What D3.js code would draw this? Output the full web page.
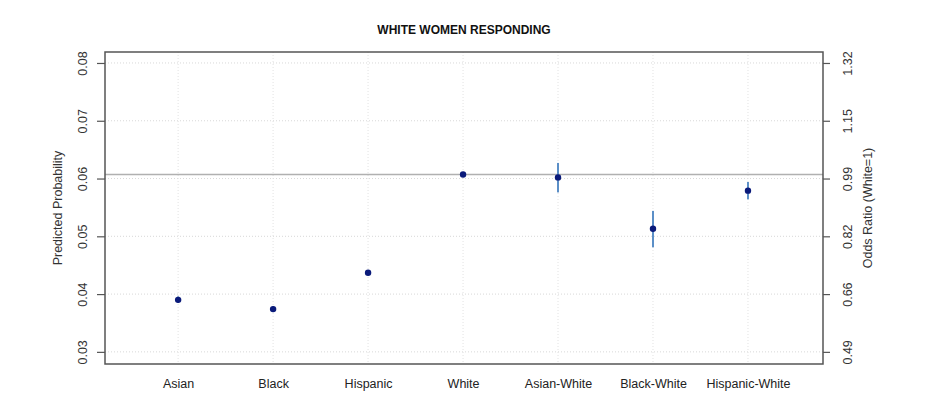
<!DOCTYPE html>
<html><head><meta charset="utf-8">
<script src="https://cdn.jsdelivr.net/npm/d3@7"></script>
<style>body{margin:0;background:#fff}svg{display:block}text{font-family:"Liberation Sans",Arial,sans-serif}</style>
</head><body><div id="c"></div>
<script>
const categories = ["Asian","Black","Hispanic","White","Asian-White","Black-White","Hispanic-White"];
const estimates  = [0.0390,0.0374,0.0437,0.0607,0.0602,0.0513,0.0579];
const ciLow      = [0.0385,0.0370,0.0433,0.0605,0.0576,0.0481,0.0564];
const ciHigh     = [0.0396,0.0379,0.0441,0.0609,0.0627,0.0544,0.0594];
const yTicks     = [0.03,0.04,0.05,0.06,0.07,0.08];
const oddsLabels = ["0.49","0.66","0.82","0.99","1.15","1.32"];
const refValue   = 0.0607;
const title      = "WHITE WOMEN RESPONDING";

const W=932,H=413;
const m={l:105,r:109,t:52,b:49};
const svg=d3.select("#c").append("svg").attr("width",W).attr("height",H);
const x=d3.scaleLinear().domain([0.23,7.79]).range([m.l,W-m.r]);
const y=d3.scaleLinear().domain([0.0279,0.0819]).range([H-m.b,m.t]);

// grid
svg.append("g").selectAll("line").data(yTicks).join("line")
  .attr("x1",m.l).attr("x2",W-m.r).attr("y1",d=>y(d)).attr("y2",d=>y(d))
  .attr("stroke","#d8d8d8").attr("stroke-width",1).attr("stroke-dasharray","1,2");
svg.append("g").selectAll("line").data(categories).join("line")
  .attr("x1",(d,i)=>x(i+1)).attr("x2",(d,i)=>x(i+1)).attr("y1",m.t).attr("y2",H-m.b)
  .attr("stroke","#e2e2e2").attr("stroke-width",1).attr("stroke-dasharray","1,2");

// reference line
svg.append("line").attr("x1",m.l).attr("x2",W-m.r).attr("y1",y(refValue)).attr("y2",y(refValue))
  .attr("stroke","#b0b0b0").attr("stroke-width",1.5);

// axes
const fmt=d3.format(".2f");
const gl=svg.append("g").attr("transform",`translate(${m.l},0)`)
  .call(d3.axisLeft(y).tickValues(yTicks).tickSize(8).tickPadding(5).tickFormat(fmt));
const gr=svg.append("g").attr("transform",`translate(${W-m.r},0)`)
  .call(d3.axisRight(y).tickValues(yTicks).tickSize(7).tickPadding(5).tickFormat((d,i)=>oddsLabels[i]));
[gl,gr].forEach(g=>{
  g.select(".domain").remove();
  g.selectAll(".tick line").attr("stroke","#555").attr("stroke-width",1.2);
  g.selectAll(".tick text").attr("fill","#333").attr("font-size",12.5);
});
gl.selectAll(".tick").each(function(){
  d3.select(this).select("text").attr("text-anchor","middle").attr("transform","translate(-22,0) rotate(-90)").attr("y",0).attr("x",0).attr("dy","0.35em");
});
gr.selectAll(".tick").each(function(){
  d3.select(this).select("text").attr("text-anchor","middle").attr("transform","translate(25,0) rotate(-90)").attr("y",0).attr("x",0).attr("dy","0.35em");
});

const gx=svg.append("g").attr("transform",`translate(0,${H-m.b})`)
  .call(d3.axisBottom(x).tickValues(d3.range(1,categories.length+1)).tickSize(0).tickPadding(15).tickFormat(d=>categories[d-1]));
gx.select(".domain").remove();
gx.selectAll(".tick text").attr("fill","#222").attr("font-size",12.5);

// box
svg.append("rect").attr("x",m.l).attr("y",m.t).attr("width",W-m.r-m.l).attr("height",H-m.b-m.t)
  .attr("fill","none").attr("stroke","#555").attr("stroke-width",1.5);

// CIs
svg.append("g").selectAll("line").data(categories).join("line")
  .attr("x1",(d,i)=>x(i+1)).attr("x2",(d,i)=>x(i+1))
  .attr("y1",(d,i)=>y(ciLow[i])).attr("y2",(d,i)=>y(ciHigh[i]))
  .attr("stroke","#5b8fc7").attr("stroke-width",2);
// points
svg.append("g").selectAll("circle").data(categories).join("circle")
  .attr("cx",(d,i)=>x(i+1)).attr("cy",(d,i)=>y(estimates[i])).attr("r",3.2)
  .attr("fill","#0a1a7a");

// titles
svg.append("text").attr("x",464).attr("y",34).attr("text-anchor","middle")
  .attr("font-size",12).attr("font-weight","bold").attr("fill","#111").text(title);
svg.append("text").attr("transform",`translate(62,${(m.t+H-m.b)/2}) rotate(-90)`)
  .attr("text-anchor","middle").attr("font-size",12.5).attr("fill","#333").text("Predicted Probability");
svg.append("text").attr("transform",`translate(872,${(m.t+H-m.b)/2}) rotate(-90)`)
  .attr("text-anchor","middle").attr("font-size",12.5).attr("fill","#333").text("Odds Ratio (White=1)");
</script></body></html>
